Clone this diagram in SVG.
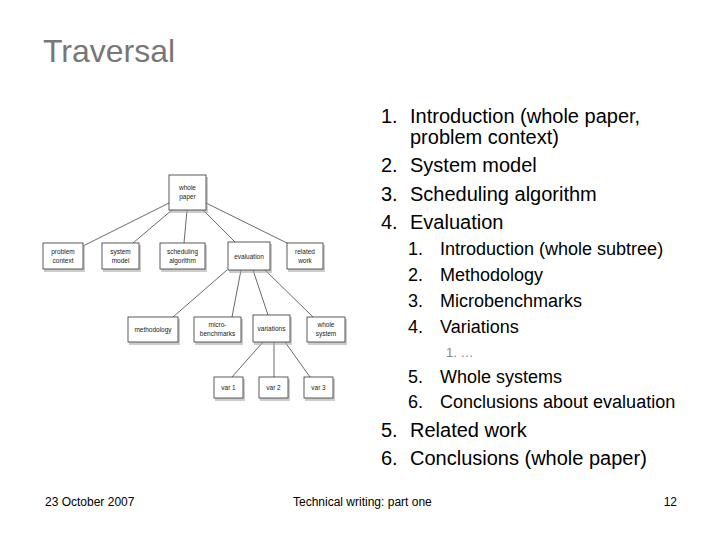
<svg xmlns="http://www.w3.org/2000/svg" width="720" height="540" viewBox="0 0 720 540">
<style>
.t{font-family:"Liberation Sans",Arial,sans-serif;fill:#000}
.m{font-size:20px}
.s{font-size:18px}
.f{font-size:12px}
.n{font-family:"Liberation Sans",Arial,sans-serif;font-size:6.5px;fill:#222;text-anchor:middle}
.box{fill:#fff;stroke:#333;stroke-width:0.8}
.sh{fill:#aaa;opacity:0.6}
.c line{stroke:#444;stroke-width:0.8}
</style>
<rect width="720" height="540" fill="#fff"/>
<text x="43" y="62" class="t" style="font-size:32px;fill:#777">Traversal</text>

<g class="c">
<line x1="169" y1="203" x2="83" y2="246"/>
<line x1="172" y1="210" x2="133" y2="243"/>
<line x1="187" y1="210" x2="184" y2="243"/>
<line x1="203" y1="210" x2="235" y2="242"/>
<line x1="206" y1="203" x2="293" y2="246"/>
<line x1="227" y1="270" x2="173" y2="317"/>
<line x1="241" y1="270" x2="232" y2="317"/>
<line x1="253" y1="270" x2="268" y2="315"/>
<line x1="265" y1="270" x2="313" y2="317"/>
<line x1="263" y1="342" x2="232" y2="377"/>
<line x1="274" y1="342" x2="274" y2="377"/>
<line x1="285" y1="342" x2="310" y2="377"/>
</g>

<g id="whole-paper"><rect class="sh" x="170" y="177" width="38" height="36"/><rect class="box" x="169" y="175" width="37" height="35"/><text class="n" x="187.5" y="190">whole</text><text class="n" x="187.5" y="199">paper</text></g>
<g id="problem-context"><rect class="sh" x="44" y="245" width="41" height="27"/><rect class="box" x="43" y="243" width="40" height="26"/><text class="n" x="63" y="254">problem</text><text class="n" x="63" y="263">context</text></g>
<g id="system-model"><rect class="sh" x="103" y="245" width="38" height="27"/><rect class="box" x="102" y="243" width="37" height="26"/><text class="n" x="120.5" y="254">system</text><text class="n" x="120.5" y="263">model</text></g>
<g id="scheduling-algorithm"><rect class="sh" x="161" y="245" width="46" height="27"/><rect class="box" x="160" y="243" width="45" height="26"/><text class="n" x="182.5" y="254">scheduling</text><text class="n" x="182.5" y="263">algorithm</text></g>
<g id="evaluation"><rect class="sh" x="229" y="244" width="43" height="29"/><rect class="box" x="228" y="242" width="42" height="28"/><text class="n" x="249" y="258.5">evaluation</text></g>
<g id="related-work"><rect class="sh" x="288" y="245" width="37" height="27"/><rect class="box" x="287" y="243" width="36" height="26"/><text class="n" x="305" y="254">related</text><text class="n" x="305" y="263">work</text></g>

<g id="methodology"><rect class="sh" x="129" y="319" width="51" height="26"/><rect class="box" x="128" y="317" width="50" height="25"/><text class="n" x="153" y="332">methodology</text></g>
<g id="micro-benchmarks"><rect class="sh" x="195" y="319" width="48" height="26"/><rect class="box" x="194" y="317" width="47" height="25"/><text class="n" x="217.5" y="327">micro-</text><text class="n" x="217.5" y="336">benchmarks</text></g>
<g id="variations"><rect class="sh" x="254" y="317" width="38" height="28"/><rect class="box" x="253" y="315" width="37" height="27"/><text class="n" x="271.5" y="331">variations</text></g>
<g id="whole-system"><rect class="sh" x="308" y="319" width="39" height="26"/><rect class="box" x="307" y="317" width="38" height="25"/><text class="n" x="326" y="327">whole</text><text class="n" x="326" y="336">system</text></g>

<g id="var1"><rect class="sh" x="215" y="379" width="30" height="22"/><rect class="box" x="214" y="377" width="29" height="21"/><text class="n" x="228.5" y="390">var 1</text></g>
<g id="var2"><rect class="sh" x="260" y="379" width="30" height="22"/><rect class="box" x="259" y="377" width="29" height="21"/><text class="n" x="273.5" y="390">var 2</text></g>
<g id="var3"><rect class="sh" x="305" y="379" width="30" height="22"/><rect class="box" x="304" y="377" width="29" height="21"/><text class="n" x="318.5" y="390">var 3</text></g>

<g id="list" class="t">
<text class="m" x="381" y="123">1.</text><text class="m" x="410" y="123">Introduction (whole paper,</text>
<text class="m" x="410" y="144">problem context)</text>
<text class="m" x="381" y="172">2.</text><text class="m" x="410" y="172">System model</text>
<text class="m" x="381" y="201">3.</text><text class="m" x="410" y="201">Scheduling algorithm</text>
<text class="m" x="381" y="229">4.</text><text class="m" x="410" y="229">Evaluation</text>
<text class="s" x="408" y="255">1.</text><text class="s" x="440" y="255">Introduction (whole subtree)</text>
<text class="s" x="408" y="281">2.</text><text class="s" x="440" y="281">Methodology</text>
<text class="s" x="408" y="307">3.</text><text class="s" x="440" y="307">Microbenchmarks</text>
<text class="s" x="408" y="333">4.</text><text class="s" x="440" y="333">Variations</text>
<text x="446" y="357" style="font-size:13px;fill:#888">1.   …</text>
<text class="s" x="408" y="383">5.</text><text class="s" x="440" y="383">Whole systems</text>
<text class="s" x="408" y="408">6.</text><text class="s" x="440" y="408">Conclusions about evaluation</text>
<text class="m" x="381" y="437">5.</text><text class="m" x="410" y="437">Related work</text>
<text class="m" x="381" y="465">6.</text><text class="m" x="410" y="465">Conclusions (whole paper)</text>
</g>

<g id="footer" class="t">
<text class="f" x="45" y="506">23 October 2007</text>
<text class="f" x="293" y="506">Technical writing: part one</text>
<text class="f" x="677" y="506" text-anchor="end">12</text>
</g>
</svg>
